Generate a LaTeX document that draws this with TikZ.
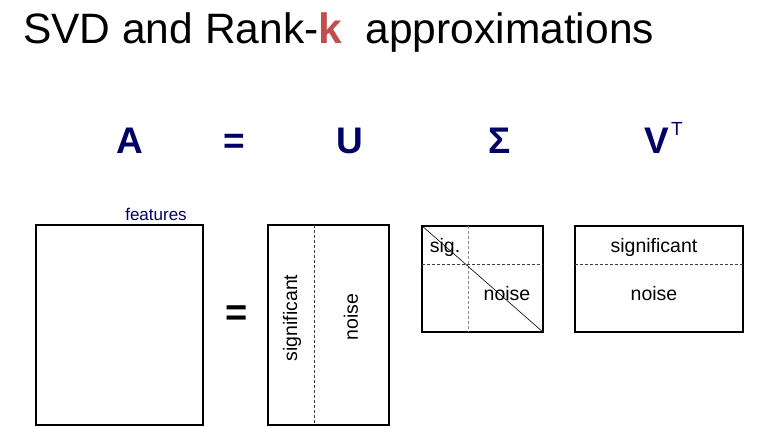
\documentclass[tikz,border=0pt]{standalone}
\usepackage{fontspec}
\setmainfont{Liberation Sans}
\definecolor{navy}{RGB}{0,0,102}
\definecolor{kred}{RGB}{192,80,77}
\begin{document}
\begin{tikzpicture}[x=1pt,y=-1pt,
  mat/.style={draw=black,line width=2pt},
  sep/.style={draw=black!75,line width=0.8pt,dash pattern=on 3pt off 2pt},
  sepg/.style={draw=black!45,line width=1pt,dash pattern=on 3pt off 2pt},
  hdr/.style={font=\fontsize{37}{40}\selectfont\bfseries,text=navy,inner sep=0pt,anchor=base},
  lbl/.style={font=\fontsize{19.5}{22}\selectfont,inner sep=0pt}]
\useasboundingbox (0,0) rectangle (758,427);
% title
\node[anchor=base west,inner sep=0pt,font=\fontsize{42.5}{45}\selectfont] (title) at (23,44)
  {SVD and Rank-\textcolor{kred}{\bfseries k}\ \ approximations};
% header row
\node[hdr] (hA) at (130,154) {A};
\node[hdr] (heq) at (234.5,154) {=};
\node[hdr] (hU) at (350,154) {U};
\node[hdr] (hS) at (500,154) {Σ};
\node[hdr] (hV) at (656.5,154) {V};
\node[inner sep=0pt,anchor=base,text=navy,font=\fontsize{19}{21}\selectfont] (hT) at (677,136) {T};
% A box
\node[mat,minimum width=167pt,minimum height=200pt,inner sep=0pt] (boxA) at (119.5,325) {};
\node[inner sep=0pt,text=navy,font=\fontsize{17}{19}\selectfont] (feat) at (156,214) {features};
\node[inner sep=0pt,font=\fontsize{38}{40}\selectfont\bfseries] (eq) at (237,316) {=};
% U box
\node[mat,minimum width=121pt,minimum height=200pt,inner sep=0pt] (boxU) at (328.5,325) {};
\coordinate (u1) at (314,225);
\coordinate (u2) at (314,425);
\draw[sep] (u1) -- (u2);
\node[lbl,rotate=90] (usig) at (292,318) {significant};
\node[lbl,rotate=90] (unoi) at (351,317) {noise};
% Sigma box
\node[mat,minimum width=121pt,minimum height=106pt,inner sep=0pt] (boxS) at (482.5,279) {};
\coordinate (s1) at (468,226);
\coordinate (s2) at (468,332);
\coordinate (s3) at (422,264);
\coordinate (s4) at (543,264);
\draw[sepg] (s1) -- (s2);
\draw[sep] (s3) -- (s4);
\draw[line width=0.6pt] (boxS.north west) -- (boxS.south east);
\node[lbl] (ssig) at (445,247) {sig.};
\node[lbl] (snoi) at (507,294) {noise};
% V box
\node[mat,minimum width=168pt,minimum height=106pt,inner sep=0pt] (boxV) at (659,279) {};
\coordinate (v1) at (575,264);
\coordinate (v2) at (743,264);
\draw[sep] (v1) -- (v2);
\node[lbl] (vsig) at (654,247) {significant};
\node[lbl] (vnoi) at (654,294) {noise};
\end{tikzpicture}
\end{document}
